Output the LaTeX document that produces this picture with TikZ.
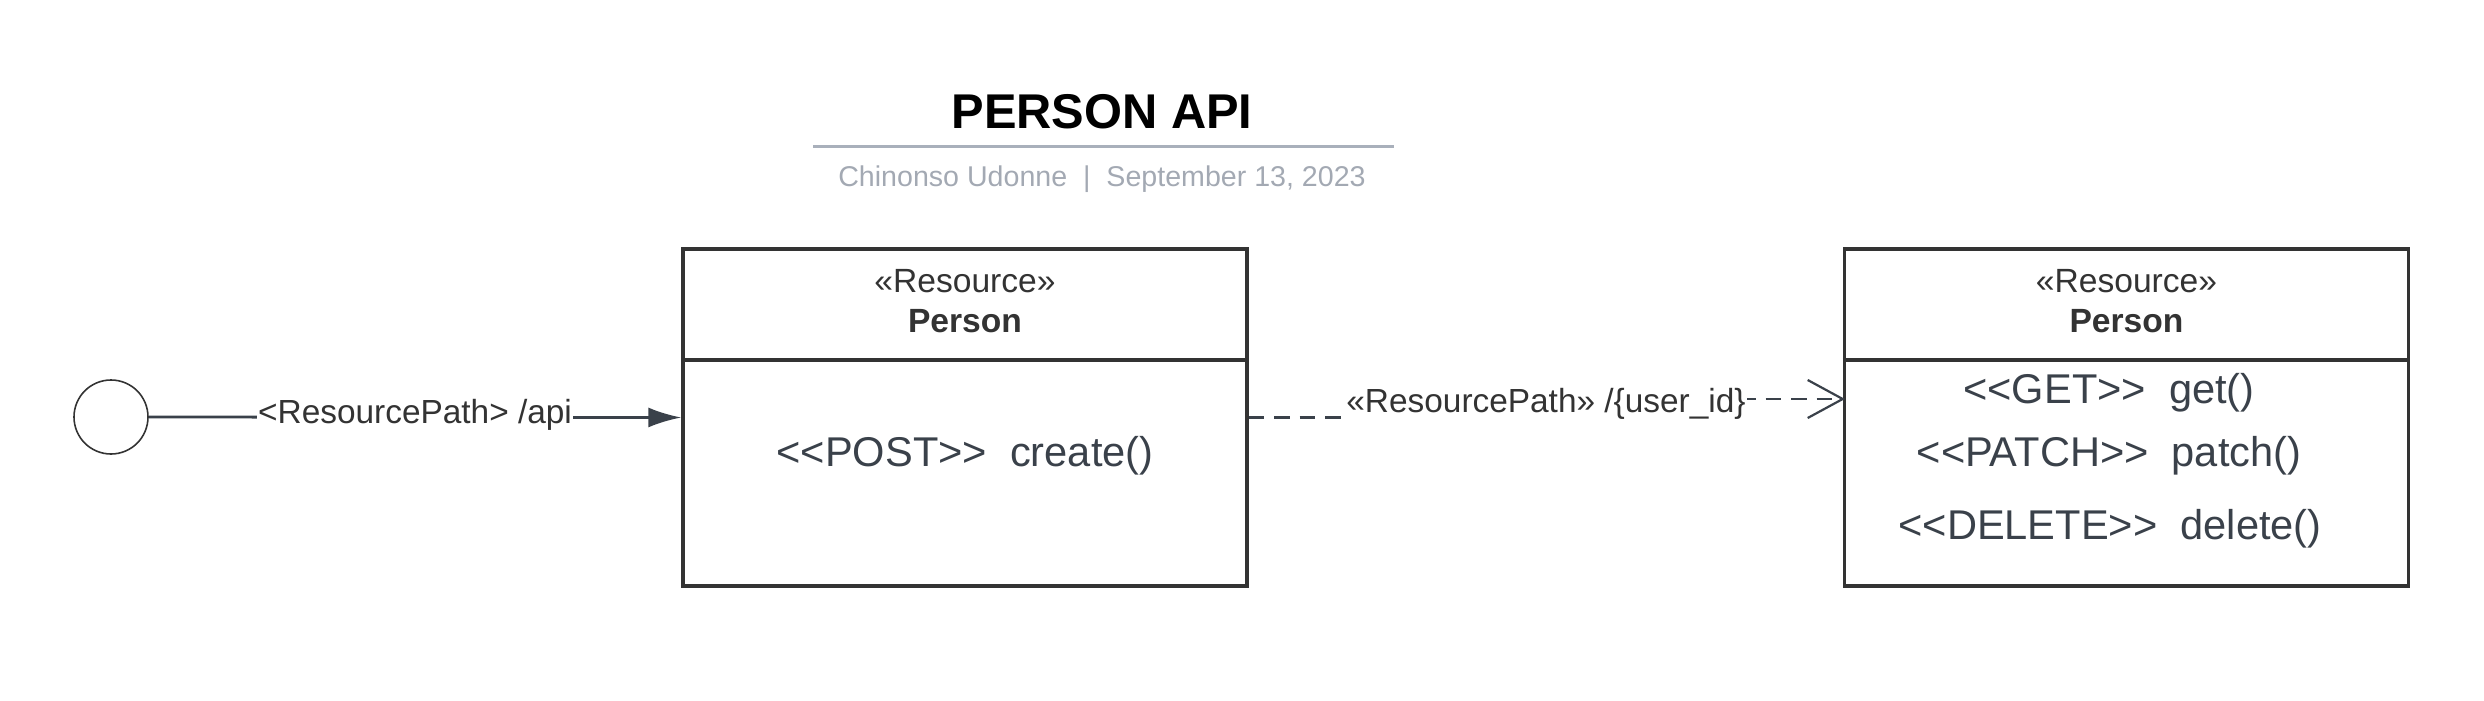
\documentclass[tikz,border=0pt]{standalone}
\usepackage{fontspec}
\setmainfont{Liberation Sans}
\usetikzlibrary{arrows.meta}
\definecolor{boxc}{HTML}{333333}
\definecolor{linec}{HTML}{3A414A}
\definecolor{grayc}{HTML}{A9B0BB}
\definecolor{subc}{HTML}{A3A9B3}
\begin{document}
\begin{tikzpicture}[x=0.5pt,y=-0.5pt,
  resbox/.style={draw=boxc, line width=1.65pt, minimum width=282pt, minimum height=168.5pt, inner sep=0pt},
  hdr/.style={text=boxc, font=\fontsize{16.8pt}{20pt}\selectfont, anchor=base, inner sep=0pt},
  meth/.style={text=linec, font=\fontsize{20.8pt}{24pt}\selectfont, anchor=base, inner sep=0pt},
  conlab/.style={text=boxc, font=\fontsize{16.7pt}{20pt}\selectfont, fill=white, inner xsep=0.5pt, inner ysep=1pt}
]
\useasboundingbox (0,0) rectangle (2484,701);

% title block
\node[anchor=base, inner sep=0pt, font=\fontsize{24.4pt}{28pt}\selectfont\bfseries] (title) at (1102,129) {PERSON API};
\coordinate (tl1) at (813,147);
\coordinate (tl2) at (1394,147);
\draw[grayc, line width=1.5pt] (tl1) -- (tl2);
\node[anchor=base, inner sep=0pt, text=subc, font=\fontsize{14.3pt}{17pt}\selectfont] (sub) at (1102,186) {Chinonso Udonne\ \ |\ \ September 13, 2023};

% start circle
\node[circle, draw=boxc, line width=0.8pt, minimum size=37pt, inner sep=0pt] (start) at (111,417) {};

% left resource box
\node[resbox] (lbox) at (965,417.5) {};
\draw[boxc, line width=1.65pt] (lbox.west |- 0,360) -- (lbox.east |- 0,360);
\node[hdr] (lres) at (965,292) {«Resource»};
\node[hdr, font=\fontsize{16.8pt}{20pt}\selectfont\bfseries] (lname) at (965,332) {Person};
\node[meth] (post) at (965,466) {<{}<POST>{}>\ \ create()};

% right resource box
\node[resbox] (rbox) at (2126.5,417.5) {};
\draw[boxc, line width=1.65pt] (rbox.west |- 0,360) -- (rbox.east |- 0,360);
\node[hdr] (rres) at (2126.5,292) {«Resource»};
\node[hdr, font=\fontsize{16.8pt}{20pt}\selectfont\bfseries] (rname) at (2126.5,332) {Person};
\node[meth] (mget) at (2109,403) {<{}<GET>{}>\ \ get()};
\node[meth] (mpatch) at (2109,466) {<{}<PATCH>{}>\ \ patch()};
\node[meth] (mdel) at (2110,539) {<{}<DELETE>{}>\ \ delete()};

% connectors
\draw[linec, line width=1.4pt, -{Latex[length=16.5pt,width=10pt]}] (start.east) -- node[conlab, midway, yshift=1pt] (lab1) {<ResourcePath> /api} (lbox.west);
\coordinate (dend) at (1845,399);
\coordinate (s1) at (1546,417.5);
\coordinate (s2) at (1546,399);
\draw[linec, line width=1.3pt, dash pattern=on 7.75pt off 5pt, -{Straight Barb[length=17.5pt,width=19pt,line width=1.1pt]}] (lbox.east) -- (s1) -- node[conlab, midway, yshift=2pt] (lab2) {«ResourcePath» /\{user\_id\}} (s2) -- (dend);
\end{tikzpicture}
\end{document}
